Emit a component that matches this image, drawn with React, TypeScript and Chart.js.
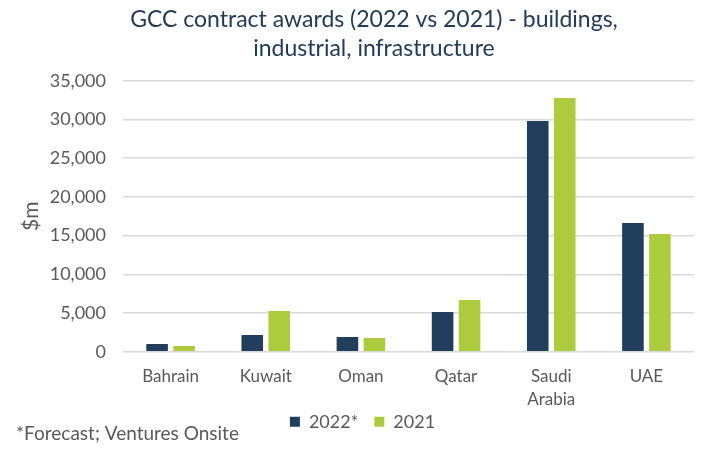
import React, { useEffect, useRef } from "react";
import { Chart, registerables } from "chart.js";

Chart.register(...registerables);

const categories: (string | string[])[] = ["Bahrain", "Kuwait", "Oman", "Qatar", ["Saudi", "Arabia"], "UAE"];
const series2022 = [990, 2150, 1900, 5120, 29800, 16620];
const series2021 = [730, 5250, 1770, 6670, 32770, 15200];
const seriesLabels = ["2022*", "2021"];
const titleLines = ["GCC contract awards (2022 vs 2021) - buildings,", "industrial, infrastructure"];
const yAxisTitle = "$m";
const footnote = "*Forecast; Ventures Onsite";
const yMin = 0;
const yMax = 35000;
const yStep = 5000;

const FONT = "Lato";
const NAVY = "#213E5C";
const GREEN = "#ADCC3D";
const GREY = "#595959";

export default function App() {
  const ref = useRef<HTMLCanvasElement | null>(null);

  useEffect(() => {
    document.body.style.margin = "0";
    const canvas = ref.current;
    if (!canvas) return;

    const shiftPlugin = {
      id: "shiftBoxes",
      afterLayout(chart: any) {
        const t = chart.titleBlock;
        if (t) {
          const dx = 374 - (t.left + t.right) / 2;
          t.left += dx;
          t.right += dx;
        }
        const l = chart.legend;
        if (l) {
          const dx = 362.5 - (l.left + l.right) / 2;
          l.left += dx;
          l.right += dx;
          l.top -= 11;
          l.bottom -= 11;
        }
      },
      afterDraw(chart: any) {
        const ctx = chart.ctx;
        ctx.save();
        ctx.font = `19px ${FONT}`;
        ctx.fillStyle = GREY;
        ctx.textAlign = "left";
        ctx.textBaseline = "middle";
        ctx.fillText(footnote, 16, 434);
        ctx.restore();
      },
    };

    const chart = new Chart(canvas, {
      type: "bar",
      data: {
        labels: categories,
        datasets: [
          { label: seriesLabels[0], data: series2022, backgroundColor: NAVY, borderWidth: 0 },
          { label: seriesLabels[1], data: series2021, backgroundColor: GREEN, borderWidth: 0 },
        ],
      },
      options: {
        responsive: false,
        animation: false,
        layout: { padding: { left: 0, right: 23, top: 0, bottom: 0.3 } },
        datasets: { bar: { categoryPercentage: 0.567, barPercentage: 0.8 } },
        plugins: {
          title: {
            display: true,
            text: titleLines,
            color: "#213B58",
            font: { family: FONT, size: 23, weight: "normal", lineHeight: 1.239 },
            padding: { top: 5.75, bottom: 17.95 },
          },
          legend: {
            display: true,
            position: "bottom",
            labels: {
              color: GREY,
              font: { family: FONT, size: 18 },
              boxWidth: 10,
              boxHeight: 10,
              padding: 16,
            },
          },
          tooltip: { enabled: false },
        },
        scales: {
          x: {
            grid: { display: false, drawTicks: false },
            border: { display: false },
            ticks: {
              color: GREY,
              font: { family: FONT, size: 17, lineHeight: 1.37 },
              padding: 12.7,
              maxRotation: 0,
              autoSkip: false,
            },
            afterFit(scale: any) {
              scale.height = 56;
            },
          },
          y: {
            min: yMin,
            max: yMax,
            grid: { color: "#d9d9d9", lineWidth: 1.5, drawTicks: false },
            border: { display: false },
            ticks: {
              stepSize: yStep,
              color: GREY,
              font: { family: FONT, size: 18 },
              padding: 17,
              callback: (v: any) => Number(v).toLocaleString("en-US"),
            },
            title: {
              display: true,
              text: yAxisTitle,
              color: GREY,
              font: { family: FONT, size: 21 },
              padding: { top: 19, bottom: 0 },
            },
            afterFit(scale: any) {
              scale.width = 123;
            },
          },
        },
      },
      plugins: [shiftPlugin],
    });

    return () => chart.destroy();
  }, []);

  return (
    <div style={{ width: 717, height: 452 }}>
      <canvas ref={ref} width={717} height={452} />
    </div>
  );
}
